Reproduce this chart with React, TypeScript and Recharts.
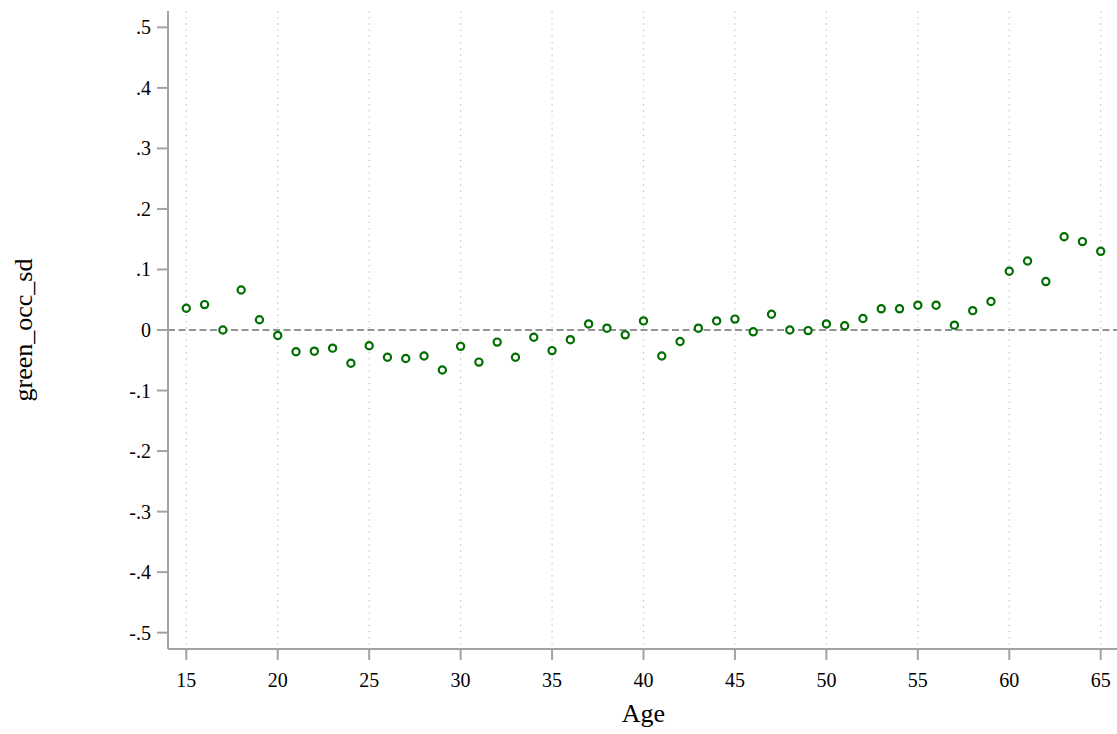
import React from 'react';
import { ScatterChart, Scatter, XAxis, YAxis, CartesianGrid, ReferenceLine, Label } from 'recharts';

const ages = [15,16,17,18,19,20,21,22,23,24,25,26,27,28,29,30,31,32,33,34,35,36,37,38,39,40,41,42,43,44,45,46,47,48,49,50,51,52,53,54,55,56,57,58,59,60,61,62,63,64,65];
const greenOccSd = [0.036,0.042,0.000,0.066,0.017,-0.009,-0.036,-0.035,-0.030,-0.055,-0.026,-0.045,-0.047,-0.043,-0.066,-0.027,-0.053,-0.020,-0.045,-0.012,-0.034,-0.016,0.010,0.003,-0.008,0.015,-0.043,-0.019,0.003,0.015,0.018,-0.003,0.026,0.000,-0.001,0.010,0.007,0.019,0.035,0.035,0.041,0.041,0.008,0.032,0.047,0.097,0.114,0.080,0.154,0.146,0.130];
const xTicks = [15,20,25,30,35,40,45,50,55,60,65];
const yTicks = [-0.5,-0.4,-0.3,-0.2,-0.1,0,0.1,0.2,0.3,0.4,0.5];

const data = ages.map((a, i) => ({ age: a, value: greenOccSd[i] }));

const FONT = "'Liberation Serif', 'Times New Roman', serif";
const AXIS = '#a3a3a3';
const GREEN = '#006e00';

const fmtY = (v: number) => {
  if (Math.abs(v) < 1e-9) return '0';
  return (v < 0 ? '-' : '') + Math.abs(v).toFixed(1).replace(/^0/, '');
};

const Dot = (props: any) => {
  const { cx, cy } = props;
  if (cx == null || cy == null) return null;
  return <circle cx={cx} cy={cy} r={3.6} fill="#ffffff" stroke={GREEN} strokeWidth={2.2} />;
};

const XTick = (props: any) => {
  const { x, y, payload } = props;
  return (
    <text x={x} y={y + 15} textAnchor="middle" fontFamily={FONT} fontSize={20} fill="#000">
      {String(payload.value)}
    </text>
  );
};

const YTick = (props: any) => {
  const { x, y, payload } = props;
  return (
    <text x={x} y={y + 7} textAnchor="end" fontFamily={FONT} fontSize={20} fill="#000">
      {fmtY(payload.value)}
    </text>
  );
};

const YTitle = (props: any) => {
  const vb = props.viewBox || {};
  const cy = vb.y + vb.height / 2;
  const x = vb.x + 32;
  return (
    <text x={x} y={cy} transform={`rotate(-90, ${x}, ${cy})`} textAnchor="middle" fontFamily={FONT} fontSize={26} fill="#000">
      green_occ_sd
    </text>
  );
};

const XTitle = (props: any) => {
  const vb = props.viewBox || {};
  return (
    <text x={643.5} y={vb.y + 72.5} textAnchor="middle" fontFamily={FONT} fontSize={26} fill="#000">
      Age
    </text>
  );
};

export default function App() {
  return (
    <div style={{ position: 'absolute', left: 0, top: 0, width: 1117, height: 734, overflow: 'hidden', background: '#fff' }}>
      <ScatterChart width={1119} height={734} margin={{ top: 11, right: 0, bottom: 0, left: 0 }}>
        <CartesianGrid horizontal={false} vertical={true} stroke="#bdbdbd" strokeDasharray="1.2 5" strokeWidth={1.2} />
        <XAxis
          type="number"
          dataKey="age"
          domain={[14, 66]}
          ticks={xTicks}
          height={85}
          axisLine={{ stroke: AXIS, strokeWidth: 2 }}
          tickLine={{ stroke: AXIS, strokeWidth: 2 }}
          tickSize={11}
          tickMargin={12}
          tick={<XTick />}
          interval={0}
        >
          <Label content={<XTitle />} />
        </XAxis>
        <YAxis
          type="number"
          dataKey="value"
          domain={[-0.527, 0.527]}
          ticks={yTicks}
          width={168}
          axisLine={{ stroke: AXIS, strokeWidth: 2 }}
          tickLine={{ stroke: AXIS, strokeWidth: 2 }}
          tickSize={11}
          tickMargin={6}
          tick={<YTick />}
          interval={0}
        >
          <Label content={<YTitle />} />
        </YAxis>
        <ReferenceLine y={0} stroke="#707070" strokeWidth={1.6} strokeDasharray="7 3.5" />
        <Scatter data={data} shape={<Dot />} isAnimationActive={false} />
      </ScatterChart>
    </div>
  );
}
